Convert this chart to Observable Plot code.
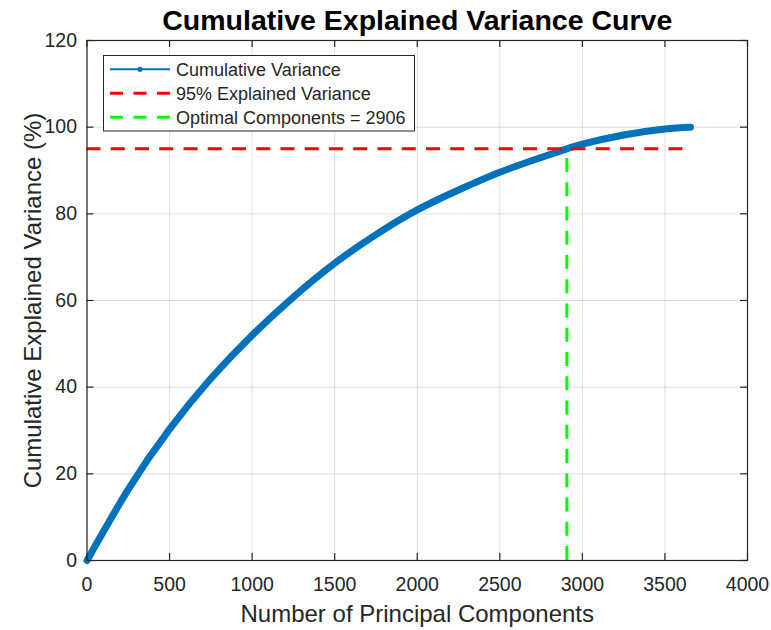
<!DOCTYPE html>
<html><head><meta charset="utf-8">
<script src="https://cdn.jsdelivr.net/npm/d3@7"></script>
<script src="https://cdn.jsdelivr.net/npm/@observablehq/plot@0.6"></script>
<style>
  body { margin: 0; background: #fff; }
  svg { font-family: "Liberation Sans", Arial, Helvetica, sans-serif; }
</style>
</head><body><div id="chart"></div>
<script>
// ---- data ----
const title = "Cumulative Explained Variance Curve";
const xLabel = "Number of Principal Components";
const yLabel = "Cumulative Explained Variance (%)";
const components   = [0, 250, 500, 750, 1000, 1250, 1500, 1750, 2000, 2250, 2500, 2750, 2906, 3000, 3250, 3500, 3655];
const cumVariance  = [0, 16.4, 30.3, 42, 52, 60.8, 68.6, 75.2, 80.9, 85.5, 89.6, 93.0, 95, 96.1, 98.2, 99.6, 100];
const threshold = 95;
const optimalComponents = 2906;
const totalComponents = 3655;
const xTicks = [0, 500, 1000, 1500, 2000, 2500, 3000, 3500, 4000];
const yTicks = [0, 20, 40, 60, 80, 100, 120];
const legendLabels = ["Cumulative Variance", "95% Explained Variance", "Optimal Components = 2906"];
const legendColors = ["#0072BD", "#FF0000", "#00FF00"];

// ---- layout ----
const W = 771, H = 630, mL = 86.5, mR = 24, mT = 40, mB = 70;
const innerW = W - mL - mR, innerH = H - mT - mB;
const axisColor = "#262626";
const tickLen = 7;
const dash = "14,10.25";

const curve = components.map((c, i) => ({c, v: cumVariance[i]}));
const fmt = d3.format("d");

const svg = Plot.plot({
  width: W, height: H,
  marginLeft: mL, marginRight: mR, marginTop: mT, marginBottom: mB,
  x: {domain: [0, 4000], label: null},
  y: {domain: [0, 120], label: null},
  style: {background: "#fff", color: axisColor, fontFamily: '"Liberation Sans", Arial, sans-serif'},
  marks: [
    Plot.gridX(xTicks, {stroke: axisColor, strokeOpacity: 0.15, strokeWidth: 1}),
    Plot.gridY(yTicks, {stroke: axisColor, strokeOpacity: 0.15, strokeWidth: 1}),
    Plot.axisX({ticks: xTicks, tickSize: 0, tickPadding: 17, fontSize: 19.5, tickFormat: fmt, label: null, fill: axisColor}),
    Plot.axisY({ticks: yTicks, tickSize: 0, tickPadding: 10, fontSize: 19.5, tickFormat: fmt, label: null, fill: axisColor}),
    // inward ticks on all four sides
    Plot.tickX(xTicks, {x: d => d, insetTop: innerH - tickLen, stroke: axisColor, strokeWidth: 1.2}),
    Plot.tickX(xTicks, {x: d => d, insetBottom: innerH - tickLen, stroke: axisColor, strokeWidth: 1.2}),
    Plot.tickY(yTicks, {y: d => d, insetRight: innerW - tickLen, stroke: axisColor, strokeWidth: 1.2}),
    Plot.tickY(yTicks, {y: d => d, insetLeft: innerW - tickLen, stroke: axisColor, strokeWidth: 1.2}),
    // curve
    Plot.line(curve, {x: "c", y: "v", stroke: legendColors[0], strokeWidth: 7, curve: "natural", strokeLinecap: "round", strokeLinejoin: "round"}),
    // threshold and optimal lines
    Plot.ruleY([threshold], {x1: 0, x2: totalComponents, stroke: legendColors[1], strokeWidth: 3, strokeDasharray: dash}),
    Plot.ruleX([optimalComponents], {y1: 0, y2: threshold, stroke: legendColors[2], strokeWidth: 3, strokeDasharray: dash}),
    Plot.frame({stroke: axisColor, strokeWidth: 1.2}),
    // texts
    Plot.text([title], {frameAnchor: "top", lineAnchor: "bottom", textAnchor: "middle", dy: -11, fontSize: 28.5, fontWeight: "bold", fill: "#000"}),
    Plot.text([xLabel], {frameAnchor: "bottom", lineAnchor: "bottom", textAnchor: "middle", dy: 61, fontSize: 24, fill: axisColor}),
    Plot.text([yLabel], {frameAnchor: "left", lineAnchor: "bottom", textAnchor: "middle", rotate: -90, dx: -46.5, fontSize: 24, fill: axisColor})
  ]
});

// ---- legend ----
const g = d3.select(svg).append("g").attr("class", "legend").attr("text-anchor", "start");
const box = {x: 103.5, y: 55.5, w: 311, h: 75.5};
g.append("rect").attr("x", box.x).attr("y", box.y).attr("width", box.w).attr("height", box.h)
  .attr("fill", "#fff").attr("stroke", axisColor).attr("stroke-width", 1);
const rowY = [69.3, 93.3, 117.3];
legendLabels.forEach((lab, i) => {
  const y = rowY[i];
  if (i === 0) {
    g.append("line").attr("x1", 110).attr("x2", 170).attr("y1", y).attr("y2", y)
      .attr("stroke", legendColors[0]).attr("stroke-width", 2);
    g.append("circle").attr("cx", 140).attr("cy", y).attr("r", 2.6).attr("fill", legendColors[0]);
  } else {
    g.append("line").attr("x1", 110).attr("x2", 170).attr("y1", y).attr("y2", y)
      .attr("stroke", legendColors[i]).attr("stroke-width", 3).attr("stroke-dasharray", "13,10.5");
  }
  g.append("text").attr("x", 176).attr("y", y).attr("dy", "0.35em").attr("text-anchor", "start")
    .attr("font-size", 18).attr("fill", axisColor).text(lab);
});

document.getElementById("chart").appendChild(svg);
</script>
</body></html>
